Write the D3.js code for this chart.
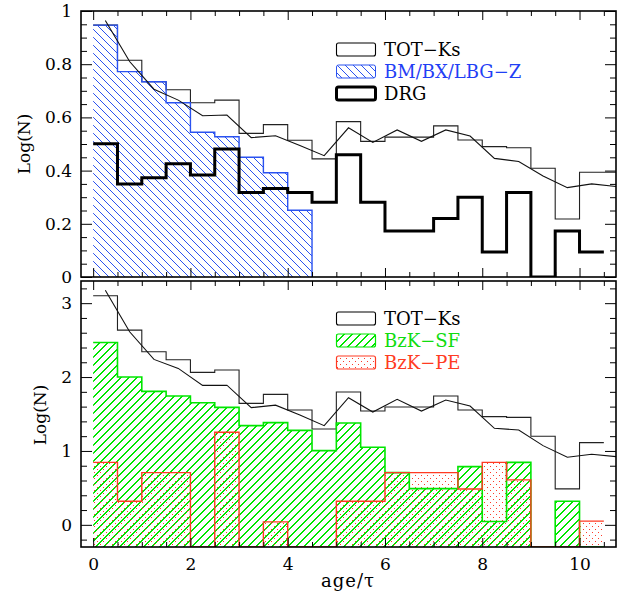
<!DOCTYPE html>
<html><head><meta charset="utf-8">
<script src="https://cdn.jsdelivr.net/npm/d3@7"></script>
<style>
html,body{margin:0;padding:0;background:#fff;}
svg{display:block;font-family:"DejaVu Serif",serif;}
</style></head>
<body>
<script>
// ---------- data ----------
const binLeft = [0,0.5,1,1.5,2,2.5,3,3.5,4,4.5,5,5.5,6,6.5,7,7.5,8,8.5,9,9.5,10,10.5];
const binWidth = 0.5;
const centers = [0.25,0.75,1.25,1.75,2.25,2.75,3.25,3.75,4.25,4.75,5.25,5.75,6.25,6.75,7.25,7.75,8.25,8.75,9.25,9.75,10.25,10.75];

// top panel
const topTot  = [0.947,0.815,0.734,0.704,0.655,0.665,0.540,0.573,0.514,0.444,0.584,0.510,0.526,0.526,0.568,0.515,0.490,0.486,0.409,0.218,0.394,0.394];
const topSmooth = [0.964,0.810,0.706,0.665,0.606,0.609,0.524,0.531,0.494,0.456,0.561,0.506,0.553,0.510,0.553,0.530,0.446,0.434,0.380,0.336,0.350,0.340];
const bmbx = [0.947,0.772,0.734,0.655,0.544,0.527,0.450,0.392,0.251,null,null,null,null,null,null,null,null,null,null,null,null];
const drg  = [0.501,0.350,0.373,0.426,0.383,0.481,0.318,0.333,0.318,0.281,0.460,0.281,0.173,0.173,0.220,0.300,0.094,0.318,null,0.173,0.094];

// bottom panel
const botTot = [3.100,2.635,2.342,2.234,2.063,2.095,1.644,1.766,1.554,1.297,1.797,1.540,1.595,1.595,1.743,1.554,1.464,1.455,1.198,0.486,1.113];
const botSmooth = [3.176,2.613,2.239,2.117,1.887,1.890,1.586,1.620,1.486,1.342,1.721,1.527,1.698,1.540,1.689,1.608,1.306,1.284,1.072,0.914,0.955,0.923];
const bzkSF = [2.468,2.000,1.806,1.743,1.653,1.590,1.342,1.383,1.279,1.005,1.378,1.049,0.707,0.490,0.490,0.788,0.045,0.845,null,0.320,null];
const bzkPE = [0.845,0.320,0.707,0.707,null,1.252,null,0.040,null,null,0.320,0.320,0.707,0.707,0.707,0.485,0.845,0.608,null,null,0.050];

const xTicks = [0,2,4,6,8,10];
const topYTicks = [0,0.2,0.4,0.6,0.8,1];
const botYTicks = [0,1,2,3];
const topLegend = ["TOT−Ks","BM/BX/LBG−Z","DRG"];
const botLegend = ["TOT−Ks","BzK−SF","BzK−PE"];
const xLabel = "age/τ";
const yLabel = "Log(N)";

// ---------- styles ----------
const BLUE = "#2a52f0", BLUE_T = "#1f40f5";
const GREEN = "#00e600", GREEN_T = "#10dc10";
const RED = "#ff3a22", RED_T = "#ff3b22";
const DOT = "#ff3a2a";

const W = 626, H = 599;
const svg = d3.select("body").append("svg").attr("width", W).attr("height", H);
const defs = svg.append("defs");

// blue: pixel-exact diagonal hatch pattern
const pb = defs.append("pattern").attr("id","hatchBlue").attr("patternUnits","userSpaceOnUse")
  .attr("x",0).attr("y",0).attr("width",8).attr("height",8);
for (let i = 0; i < 8; i++) {
  pb.append("rect").attr("x", i).attr("y", i).attr("width",1).attr("height",1)
    .attr("shape-rendering","crispEdges").style("fill", BLUE);
}
// red dots
const pr = defs.append("pattern").attr("id","dotsRed").attr("patternUnits","userSpaceOnUse").attr("width",6).attr("height",6);
pr.append("rect").attr("x",1).attr("y",1).attr("width",1).attr("height",1).style("fill",DOT).attr("shape-rendering","crispEdges");
pr.append("rect").attr("x",4).attr("y",4).attr("width",1).attr("height",1).style("fill",DOT).attr("shape-rendering","crispEdges");

const x = d3.scaleLinear().domain([-0.25,10.75]).range([81,616]);
const yTop = d3.scaleLinear().domain([0,1]).range([277,11]);
const yBot = d3.scaleLinear().domain([-0.3,3.3]).range([547,281]);

let clipCount = 0;
// green: "/" hatch drawn as real lines, clipped to a shape
function hatchInto(parent, shapeD, color, box) {
  const id = "hc" + (clipCount++);
  defs.append("clipPath").attr("id", id).append("path").attr("d", shapeD);
  const g = parent.append("g").attr("clip-path", `url(#${id})`);
  const [bx0, by0, bx1, by1] = box;
  const h = by1 - by0;
  const step = 8;
  for (let c = Math.floor(bx0 - h - step); c <= bx1 + h + step; c += step) {
    g.append("line").attr("x1", c + 0.5).attr("y1", by1).attr("x2", c + 0.5 + h).attr("y2", by0);
  }
  g.selectAll("line").attr("stroke", color).attr("stroke-width", 1).attr("shape-rendering","crispEdges");
}

function stepLine(vals, y) {
  const base = y.domain()[0];
  let d = "";
  vals.forEach((v,i) => {
    const vv = v == null ? base : v;
    const l = x(binLeft[i]), r = x(binLeft[i] + binWidth), yy = y(vv);
    d += (i === 0 ? "M" + l + "," + yy : "V" + yy) + "H" + r;
  });
  return d;
}
function stepFill(vals, y) {
  const b = y(y.domain()[0]);
  let d = "", open = false;
  vals.forEach((v,i) => {
    if (v == null) { if (open) { d += "V" + b + "Z"; open = false; } return; }
    const l = x(binLeft[i]), r = x(binLeft[i] + binWidth), yy = y(v);
    if (!open) { d += "M" + l + "," + b + "V" + yy; open = true; } else d += "V" + yy;
    d += "H" + r;
  });
  if (open) d += "V" + b + "Z";
  return d;
}

function panel(id, y) {
  const [y0, y1] = y.range();
  defs.append("clipPath").attr("id", id).append("rect")
    .attr("x", x.range()[0]).attr("y", y1).attr("width", x.range()[1]-x.range()[0]).attr("height", y0-y1);
  const g = svg.append("g");
  const plot = g.append("g").attr("clip-path", `url(#${id})`);
  return {g, plot, box: [x.range()[0], y1, x.range()[1], y0]};
}

function frame(g, y, yTicks, yMinor, showXLabels) {
  const [y0, y1] = y.range();
  const xMinor = binLeft.filter(v => xTicks.indexOf(v) < 0);
  const style = a => { a.select(".domain").remove(); a.selectAll("line").attr("stroke","#000").attr("stroke-width",1); };
  const txt = a => a.selectAll("text").attr("font-family","DejaVu Serif").attr("font-size",17).attr("fill","#000");
  g.append("g").attr("transform",`translate(0,${y0})`)
    .call(d3.axisBottom(x).tickValues(xTicks).tickSize(-9).tickPadding(11).tickFormat(showXLabels ? d3.format("d") : ""))
    .call(style).call(txt);
  g.append("g").attr("transform",`translate(0,${y0})`)
    .call(d3.axisBottom(x).tickValues(xMinor).tickSize(-5).tickFormat("")).call(style);
  g.append("g").attr("transform",`translate(0,${y1})`)
    .call(d3.axisTop(x).tickValues(xTicks).tickSize(-9).tickFormat("")).call(style);
  g.append("g").attr("transform",`translate(0,${y1})`)
    .call(d3.axisTop(x).tickValues(xMinor).tickSize(-5).tickFormat("")).call(style);
  g.append("g").attr("transform",`translate(${x.range()[0]},0)`)
    .call(d3.axisLeft(y).tickValues(yTicks).tickSize(-11).tickPadding(9).tickFormat(d3.format("~g")))
    .call(style).call(txt);
  g.append("g").attr("transform",`translate(${x.range()[0]},0)`)
    .call(d3.axisLeft(y).tickValues(yMinor).tickSize(-6).tickFormat("")).call(style);
  g.append("g").attr("transform",`translate(${x.range()[1]},0)`)
    .call(d3.axisRight(y).tickValues(yTicks).tickSize(-11).tickFormat("")).call(style);
  g.append("g").attr("transform",`translate(${x.range()[1]},0)`)
    .call(d3.axisRight(y).tickValues(yMinor).tickSize(-6).tickFormat("")).call(style);
  g.append("rect").attr("x",x.range()[0]).attr("y",y1).attr("width",x.range()[1]-x.range()[0]).attr("height",y0-y1)
    .attr("fill","none").attr("stroke","#000").attr("stroke-width",1.6);
}

const smoothLine = y => d3.line().x((d,i) => x(centers[i])).y(d => y(d));

// ----- top panel -----
const topMinor = d3.range(0, 1.0001, 0.05).map(v => +v.toFixed(2)).filter(v => topYTicks.indexOf(v) < 0);
const T = panel("clipTop", yTop);
T.plot.append("path").attr("d", stepLine(topTot, yTop)).attr("fill","none").attr("stroke","#222").attr("stroke-width",1.1);
T.plot.append("path").attr("d", stepFill(bmbx, yTop)).style("fill","url(#hatchBlue)");
T.plot.append("path").attr("d", stepLine(bmbx.slice(0,9), yTop) + "V" + yTop(0)).attr("fill","none").attr("stroke",BLUE).attr("stroke-width",1.4);
T.plot.append("path").attr("d", smoothLine(yTop)(topSmooth)).attr("fill","none").attr("stroke","#111").attr("stroke-width",1.1);
T.plot.append("path").attr("d", stepLine(drg, yTop)).attr("fill","none").attr("stroke","#000").attr("stroke-width",3);
frame(T.g, yTop, topYTicks, topMinor, false);

// ----- bottom panel -----
const botMinor = d3.range(-0.2, 3.3, 0.2).map(v => +v.toFixed(2)).filter(v => botYTicks.indexOf(v) < 0);
const B = panel("clipBot", yBot);
B.plot.append("path").attr("d", stepLine(botTot, yBot)).attr("fill","none").attr("stroke","#222").attr("stroke-width",1.1);
hatchInto(B.plot, stepFill(bzkSF, yBot), GREEN, B.box);
B.plot.append("path").attr("d", stepFill(bzkPE, yBot)).style("fill","url(#dotsRed)");
B.plot.append("path").attr("d", stepLine(bzkSF, yBot)).attr("fill","none").attr("stroke",GREEN).attr("stroke-width",1.6);
B.plot.append("path").attr("d", stepLine(bzkPE, yBot)).attr("fill","none").attr("stroke",RED).attr("stroke-width",1.4);
B.plot.append("path").attr("d", smoothLine(yBot)(botSmooth)).attr("fill","none").attr("stroke","#111").attr("stroke-width",1.1);
frame(B.g, yBot, botYTicks, botMinor, true);

// ----- legends -----
function legend(items, top, styles) {
  items.forEach((t,i) => {
    const yy = top + i*22;
    const s = styles[i];
    const bx = 336.5, bw = 39, bh = 13;
    if (s.hatch) hatchInto(svg, `M${bx},${yy}h${bw}v${bh}h${-bw}Z`, s.stroke, [bx, yy, bx+bw, yy+bh]);
    svg.append("rect").attr("x",bx).attr("y",yy).attr("width",bw).attr("height",bh).attr("rx",2)
      .style("fill", s.fill).attr("stroke", s.stroke).attr("stroke-width", s.sw);
    svg.append("text").attr("x",384).attr("y",yy+13).attr("font-size",18).attr("fill",s.text).text(t);
  });
}
legend(topLegend, 43, [
  {fill:"none", stroke:"#000", sw:1.1, text:"#000"},
  {fill:"url(#hatchBlue)", stroke:BLUE, sw:1, text:BLUE_T},
  {fill:"none", stroke:"#000", sw:3, text:"#000"}]);
legend(botLegend, 312, [
  {fill:"none", stroke:"#000", sw:1.1, text:"#000"},
  {fill:"none", hatch:true, stroke:GREEN, sw:1.2, text:GREEN_T},
  {fill:"url(#dotsRed)", stroke:RED, sw:1.2, text:RED_T}]);

// ----- axis titles -----
svg.append("text").attr("transform","translate(30,144) rotate(-90)").attr("text-anchor","middle").attr("font-size",17).text(yLabel);
svg.append("text").attr("transform","translate(46,415) rotate(-90)").attr("text-anchor","middle").attr("font-size",17).text(yLabel);
svg.append("text").attr("x",348).attr("y",587).attr("text-anchor","middle").attr("font-size",18).attr("letter-spacing",1).text(xLabel);
</script>
</body></html>
